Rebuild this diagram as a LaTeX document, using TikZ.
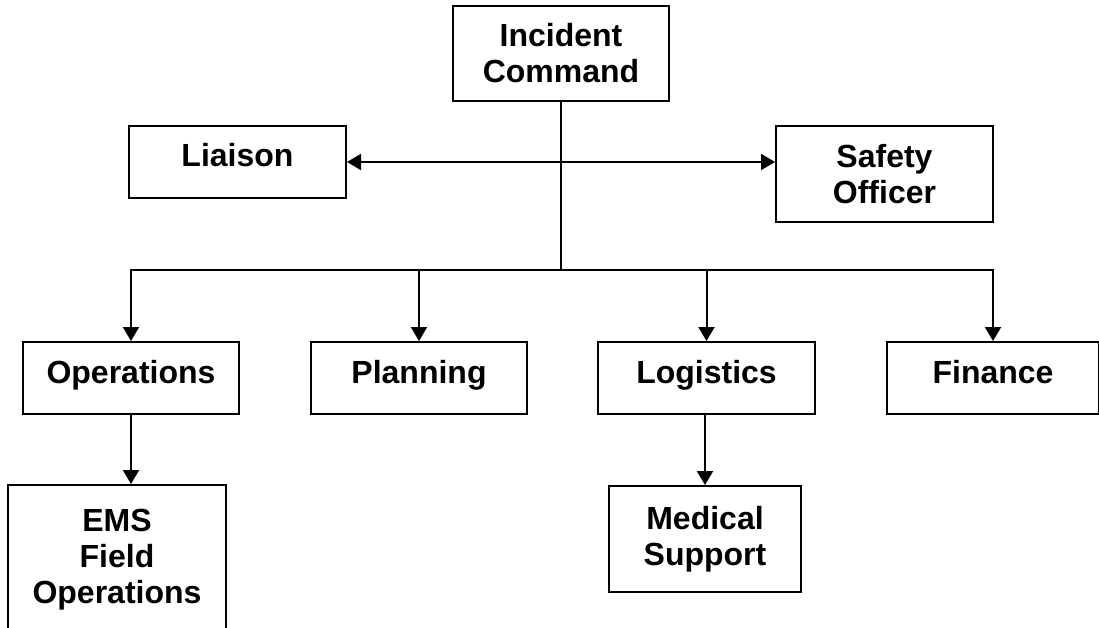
\documentclass[tikz,border=0pt]{standalone}
\usepackage{fontspec}
\setmainfont{Liberation Sans}
\usetikzlibrary{arrows.meta}
\tikzset{
  box/.style={draw, line width=2pt, align=center, inner sep=0pt,
    font=\bfseries\fontsize{32}{36}\selectfont},
  oneline/.style={text height=17pt, text depth=7pt},
  conn/.style={line width=2pt},
  tip/.tip={Triangle[length=14pt,width=16pt]},
  arr/.style={conn, -tip},
}
\begin{document}
\begin{tikzpicture}[x=1pt,y=-1pt]
  \useasboundingbox (0,0) rectangle (1099,628);
  % command staff
  \node[box, minimum width=216, minimum height=95] (ic)  at (561,53.5)  {Incident\\Command};
  \node[box, oneline, minimum width=217, minimum height=72] (lia) at (237.5,162) {Liaison};
  \node[box, minimum width=217, minimum height=96] (saf) at (884.5,174) {Safety\\Officer};
  % sections
  \node[box, oneline, minimum width=216, minimum height=72] (ops) at (131,378)   {Operations};
  \node[box, oneline, minimum width=216, minimum height=72] (pla) at (419,378)   {Planning};
  \node[box, oneline, minimum width=217, minimum height=72] (log) at (706.5,378) {Logistics};
  \node[box, oneline, minimum width=212, minimum height=72] (fin) at (993,378)   {Finance};
  % units (the EMS box runs on past the lower edge)
  \node[box, minimum width=218, minimum height=150] (ems) at (117,560) {EMS\\Field\\Operations};
  \node[box, minimum width=192, minimum height=106] (med) at (705,539) {Medical\\Support};

  % connectors
  \coordinate (bus) at (561,270);
  \draw[conn] (ic.south) -- (bus);
  \draw[conn, tip-tip] (lia.east) -- (lia.east -| saf.west);
  \draw[arr] (bus) -| (ops.north);
  \draw[arr] (bus) -| (fin.north);
  \draw[arr] (pla.north |- bus) -- (pla.north);
  \draw[arr] (log.north |- bus) -- (log.north);
  \draw[arr] (ops.south) -- (ops.south |- ems.north);
  \draw[arr] (med.north |- log.south) -- (med.north);
\end{tikzpicture}
\end{document}
